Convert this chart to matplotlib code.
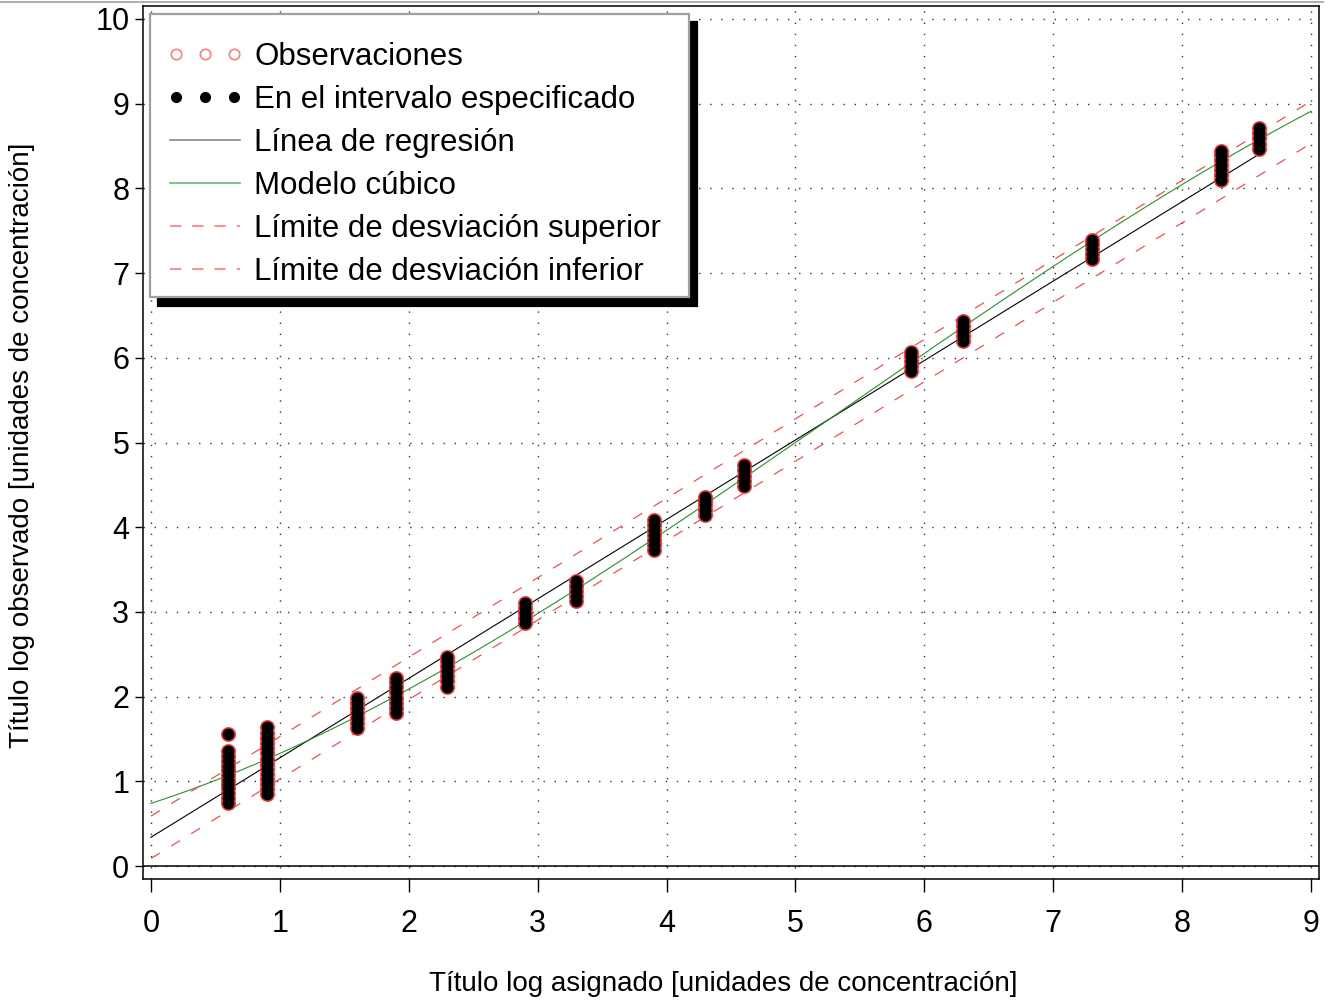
import matplotlib
matplotlib.use('Agg')
import matplotlib.pyplot as plt
import numpy as np
from matplotlib.lines import Line2D
from matplotlib.legend_handler import HandlerLine2D

plt.rcParams['font.family'] = ['Liberation Sans', 'DejaVu Sans']
plt.rcParams['lines.scale_dashes'] = False

assigned = [0.6, 0.9, 1.6, 1.9, 2.3, 2.9, 3.3, 3.9, 4.3, 4.6, 5.9, 6.3, 7.3, 8.3, 8.6]
observed = [
    [0.75, 0.80, 0.86, 0.92, 0.97, 1.02, 1.08, 1.13, 1.18, 1.24, 1.30, 1.36, 1.56],
    [0.85, 0.91, 0.97, 1.03, 1.09, 1.15, 1.21, 1.27, 1.33, 1.39, 1.45, 1.51, 1.57, 1.64],
    [1.63, 1.69, 1.75, 1.81, 1.87, 1.93, 1.99],
    [1.81, 1.87, 1.93, 1.99, 2.05, 2.11, 2.17, 2.22],
    [2.12, 2.18, 2.24, 2.30, 2.36, 2.42, 2.47],
    [2.87, 2.93, 2.99, 3.05, 3.10],
    [3.13, 3.19, 3.25, 3.31, 3.36],
    [3.73, 3.79, 3.85, 3.91, 3.97, 4.03, 4.08],
    [4.14, 4.20, 4.26, 4.31, 4.36],
    [4.49, 4.55, 4.61, 4.67, 4.73],
    [5.84, 5.90, 5.96, 6.02, 6.07],
    [6.20, 6.26, 6.32, 6.38, 6.43],
    [7.17, 7.23, 7.29, 7.34, 7.39],
    [8.10, 8.16, 8.22, 8.28, 8.34, 8.39, 8.44],
    [8.47, 8.53, 8.59, 8.65, 8.71],
]

# fitted models
reg_intercept, reg_slope = 0.34, 0.938
reg_range = [0, 8.6]
cubic_coef = [-0.006444, 0.10417, 0.4923, 0.74]   # highest power first
dev_limit = 0.25
xticks = list(range(0, 10))
yticks = list(range(0, 11))

fig = plt.figure(figsize=(13.36, 10.06), dpi=100)
ax = fig.add_axes([0.1070, 0.1262, 0.8803, 0.8678])

xs = []
ys = []
for a, obs in zip(assigned, observed):
    xs += [a] * len(obs)
    ys += obs

ax.plot(xs, ys, 'o', ms=9.5, mfc='none', mec='#ff3030', mew=1.2, zorder=4)
ax.plot(xs, ys, 'o', ms=8.6, mfc='black', mec='black', mew=0, zorder=5)

xr = np.linspace(reg_range[0], reg_range[1], 100)
ax.plot(xr, reg_intercept + reg_slope * xr, color='black', lw=0.8, zorder=3)

xf = np.linspace(0, 9, 200)
ax.plot(xf, np.polyval(cubic_coef, xf), color='#2a902a', lw=0.8, zorder=3)
for sgn in (1, -1):
    ax.plot(xf, reg_intercept + reg_slope * xf + sgn * dev_limit, color='#ff3b3b',
            lw=0.8, dashes=(7.5, 9.5), zorder=3)

ax.axhline(0, color='black', lw=1.1, zorder=2)

ax.set_xlim(-0.062, 9.062)
ax.set_ylim(-0.153, 10.153)
ax.set_xticks(xticks)
ax.set_yticks(yticks)
ax.grid(True, color='#333333', lw=1.0, linestyle=(0, (1, 7)))
for s in ax.spines.values():
    s.set_linewidth(1.1)
ax.tick_params(axis='x', direction='out', length=9.4, width=1, pad=12, labelsize=22)
ax.tick_params(axis='y', direction='out', length=5.8, width=1, pad=4, labelsize=22)

ax.set_xlabel('Título log asignado [unidades de concentración]', fontsize=20)
ax.set_ylabel('Título log observado [unidades de concentración]', fontsize=20)
ax.xaxis.set_label_coords(0.493, -0.1055)
ax.yaxis.set_label_coords(-0.0918, 0.497)

obs_handle = Line2D([], [], ls='none', marker='o', ms=7.5, mfc='none', mec='#ff8080', mew=1.2)
int_handle = Line2D([], [], ls='none', marker='o', ms=7, mfc='black', mec='black')
handles = [
    obs_handle,
    int_handle,
    Line2D([], [], color='#888888', lw=1.2),
    Line2D([], [], color='#66bb66', lw=1.2),
    Line2D([], [], color='#ff9090', lw=1.5, dashes=(8, 8)),
    Line2D([], [], color='#ff9090', lw=1.5, dashes=(8, 8)),
]
labels = ['Observaciones', 'En el intervalo especificado', 'Línea de regresión',
          'Modelo cúbico', 'Límite de desviación superior  ', 'Límite de desviación inferior']
hmap = {obs_handle: HandlerLine2D(numpoints=3, marker_pad=0.5),
        int_handle: HandlerLine2D(numpoints=3, marker_pad=0.5)}
leg = ax.legend(handles, labels, loc='upper left', bbox_to_anchor=(0.006, 0.9908),
                borderaxespad=0, fontsize=22.5, numpoints=3, handlelength=2.85,
                handletextpad=0.15, labelspacing=0.42, borderpad=0.33,
                title=' ', title_fontsize=3, handler_map=hmap,
                fancybox=False, framealpha=1, edgecolor='#a0a0a0',
                shadow={'ox': 6, 'oy': -6, 'color': 'black', 'alpha': 1})
leg.get_frame().set_linewidth(1.6)
leg.set_zorder(10)

fig.add_artist(Line2D([0, 0.99], [0.998, 0.998], color='#a0a0a0', lw=1.2))

fig.savefig('out.png', dpi=100)
